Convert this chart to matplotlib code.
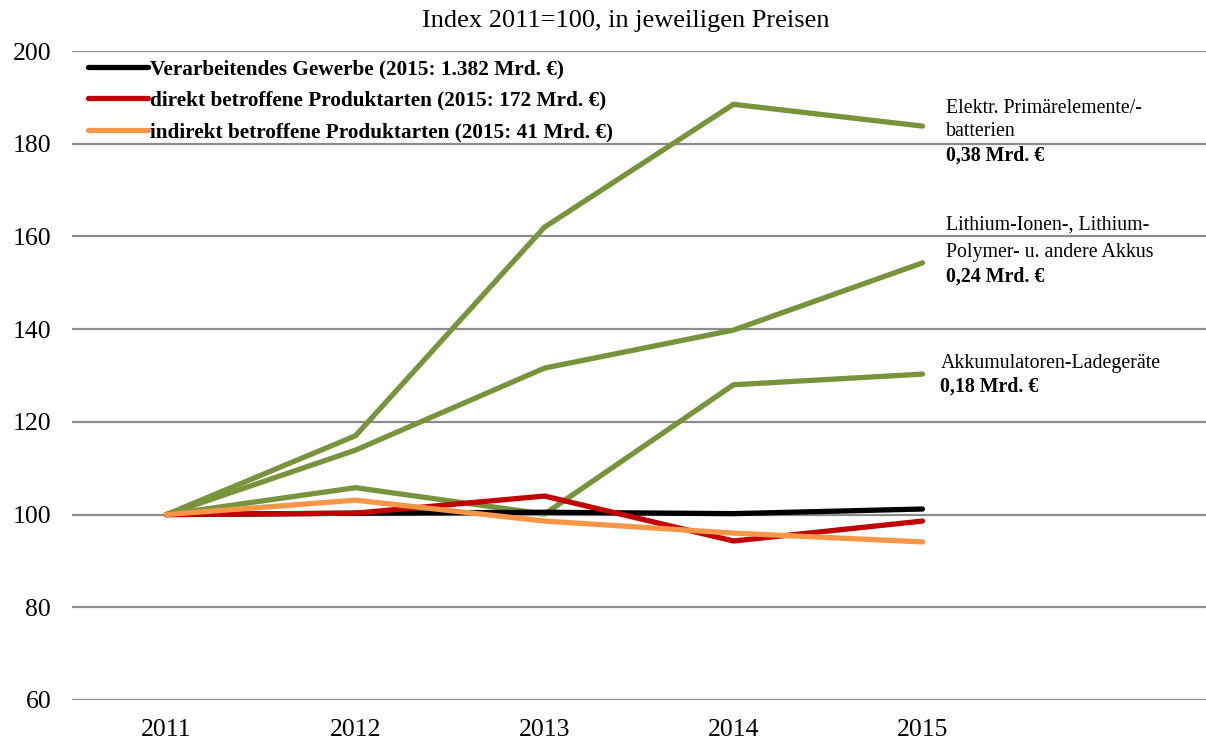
import matplotlib
matplotlib.use("Agg")
import matplotlib.pyplot as plt

years = ["2011", "2012", "2013", "2014", "2015"]
verarbeitendes = [100, 100.3, 100.5, 100.2, 101.2]
direkt = [100, 100.3, 104.0, 94.3, 98.6]
indirekt = [100, 103.1, 98.6, 96.0, 94.1]
primaer = [100, 117.0, 162.0, 188.5, 183.8]
lithium = [100, 113.9, 131.6, 139.8, 154.3]
ladegeraete = [100, 105.8, 100.1, 128.0, 130.3]

legend_labels = [
    "Verarbeitendes Gewerbe (2015: 1.382 Mrd. €)",
    "direkt betroffene Produktarten (2015: 172 Mrd. €)",
    "indirekt betroffene Produktarten (2015: 41 Mrd. €)",
]
title = "Index 2011=100, in jeweiligen Preisen"
yticks = [60, 80, 100, 120, 140, 160, 180, 200]

plt.rcParams['font.family'] = ['Liberation Serif', 'DejaVu Serif']

W, H = 1206, 747
fig = plt.figure(figsize=(W / 100, H / 100), dpi=100)
ax = fig.add_axes([72 / W, 1 - 700 / H, (W - 72) / W, (700 - 51) / H])

x = list(range(len(years)))
green = "#77933C"
lw = 3.8
ax.plot(x, primaer, color=green, lw=lw, solid_capstyle='round', zorder=3)
ax.plot(x, lithium, color=green, lw=lw, solid_capstyle='round', zorder=3)
ax.plot(x, ladegeraete, color=green, lw=lw, solid_capstyle='round', zorder=3)
l1, = ax.plot(x, verarbeitendes, color="black", lw=lw, solid_capstyle='round', zorder=4)
l2, = ax.plot(x, direkt, color="#C00000", lw=lw, solid_capstyle='round', zorder=4)
l3, = ax.plot(x, indirekt, color="#F79646", lw=lw, solid_capstyle='round', zorder=5)

ax.set_xlim(-0.5, 5.5)
ax.set_ylim(60, 200)
ax.set_xticks(x)
ax.set_xticklabels(years)
ax.set_yticks(yticks)
ax.tick_params(axis='both', length=0, labelsize=18.5)
ax.tick_params(axis='x', pad=14)
ax.tick_params(axis='y', pad=15)
for s in ax.spines.values():
    s.set_visible(False)
ax.grid(axis='y', color="#8c8c8c", lw=1.6)
ax.set_axisbelow(True)

fig.text(626 / W, 1 - 21 / H, title, fontsize=19, ha='center', va='center')

leg = ax.legend([l1, l2, l3], legend_labels, loc='upper left',
                bbox_to_anchor=(16 / (W - 72), 1 - 8 / 649), frameon=False,
                prop={'weight': 'bold', 'size': 15.3},
                handlelength=2.8, handletextpad=0.1, labelspacing=0.55,
                borderaxespad=0.0, borderpad=0.0)

def px2val(py):
    return 200 - (py - 51) * 140 / 649

xt = 4 + (945 - 922) / 189
fs = 14.3
ax.text(xt, px2val(108), "Elektr. Primärelemente/-", fontsize=fs, va='center')
ax.text(xt, px2val(131), "batterien", fontsize=fs, va='center')
ax.text(xt, px2val(156), "0,38 Mrd. €", fontsize=fs, va='center', weight='bold')
ax.text(xt, px2val(225), "Lithium-Ionen-, Lithium-", fontsize=fs, va='center')
ax.text(xt, px2val(252), "Polymer- u. andere Akkus", fontsize=fs, va='center')
ax.text(xt, px2val(277), "0,24 Mrd. €", fontsize=fs, va='center', weight='bold')
xt2 = 4 + (940 - 922) / 189
ax.text(xt2, px2val(363), "Akkumulatoren-Ladegeräte", fontsize=fs, va='center')
ax.text(xt2, px2val(387), "0,18 Mrd. €", fontsize=fs, va='center', weight='bold')

fig.savefig("out.png", dpi=100)
